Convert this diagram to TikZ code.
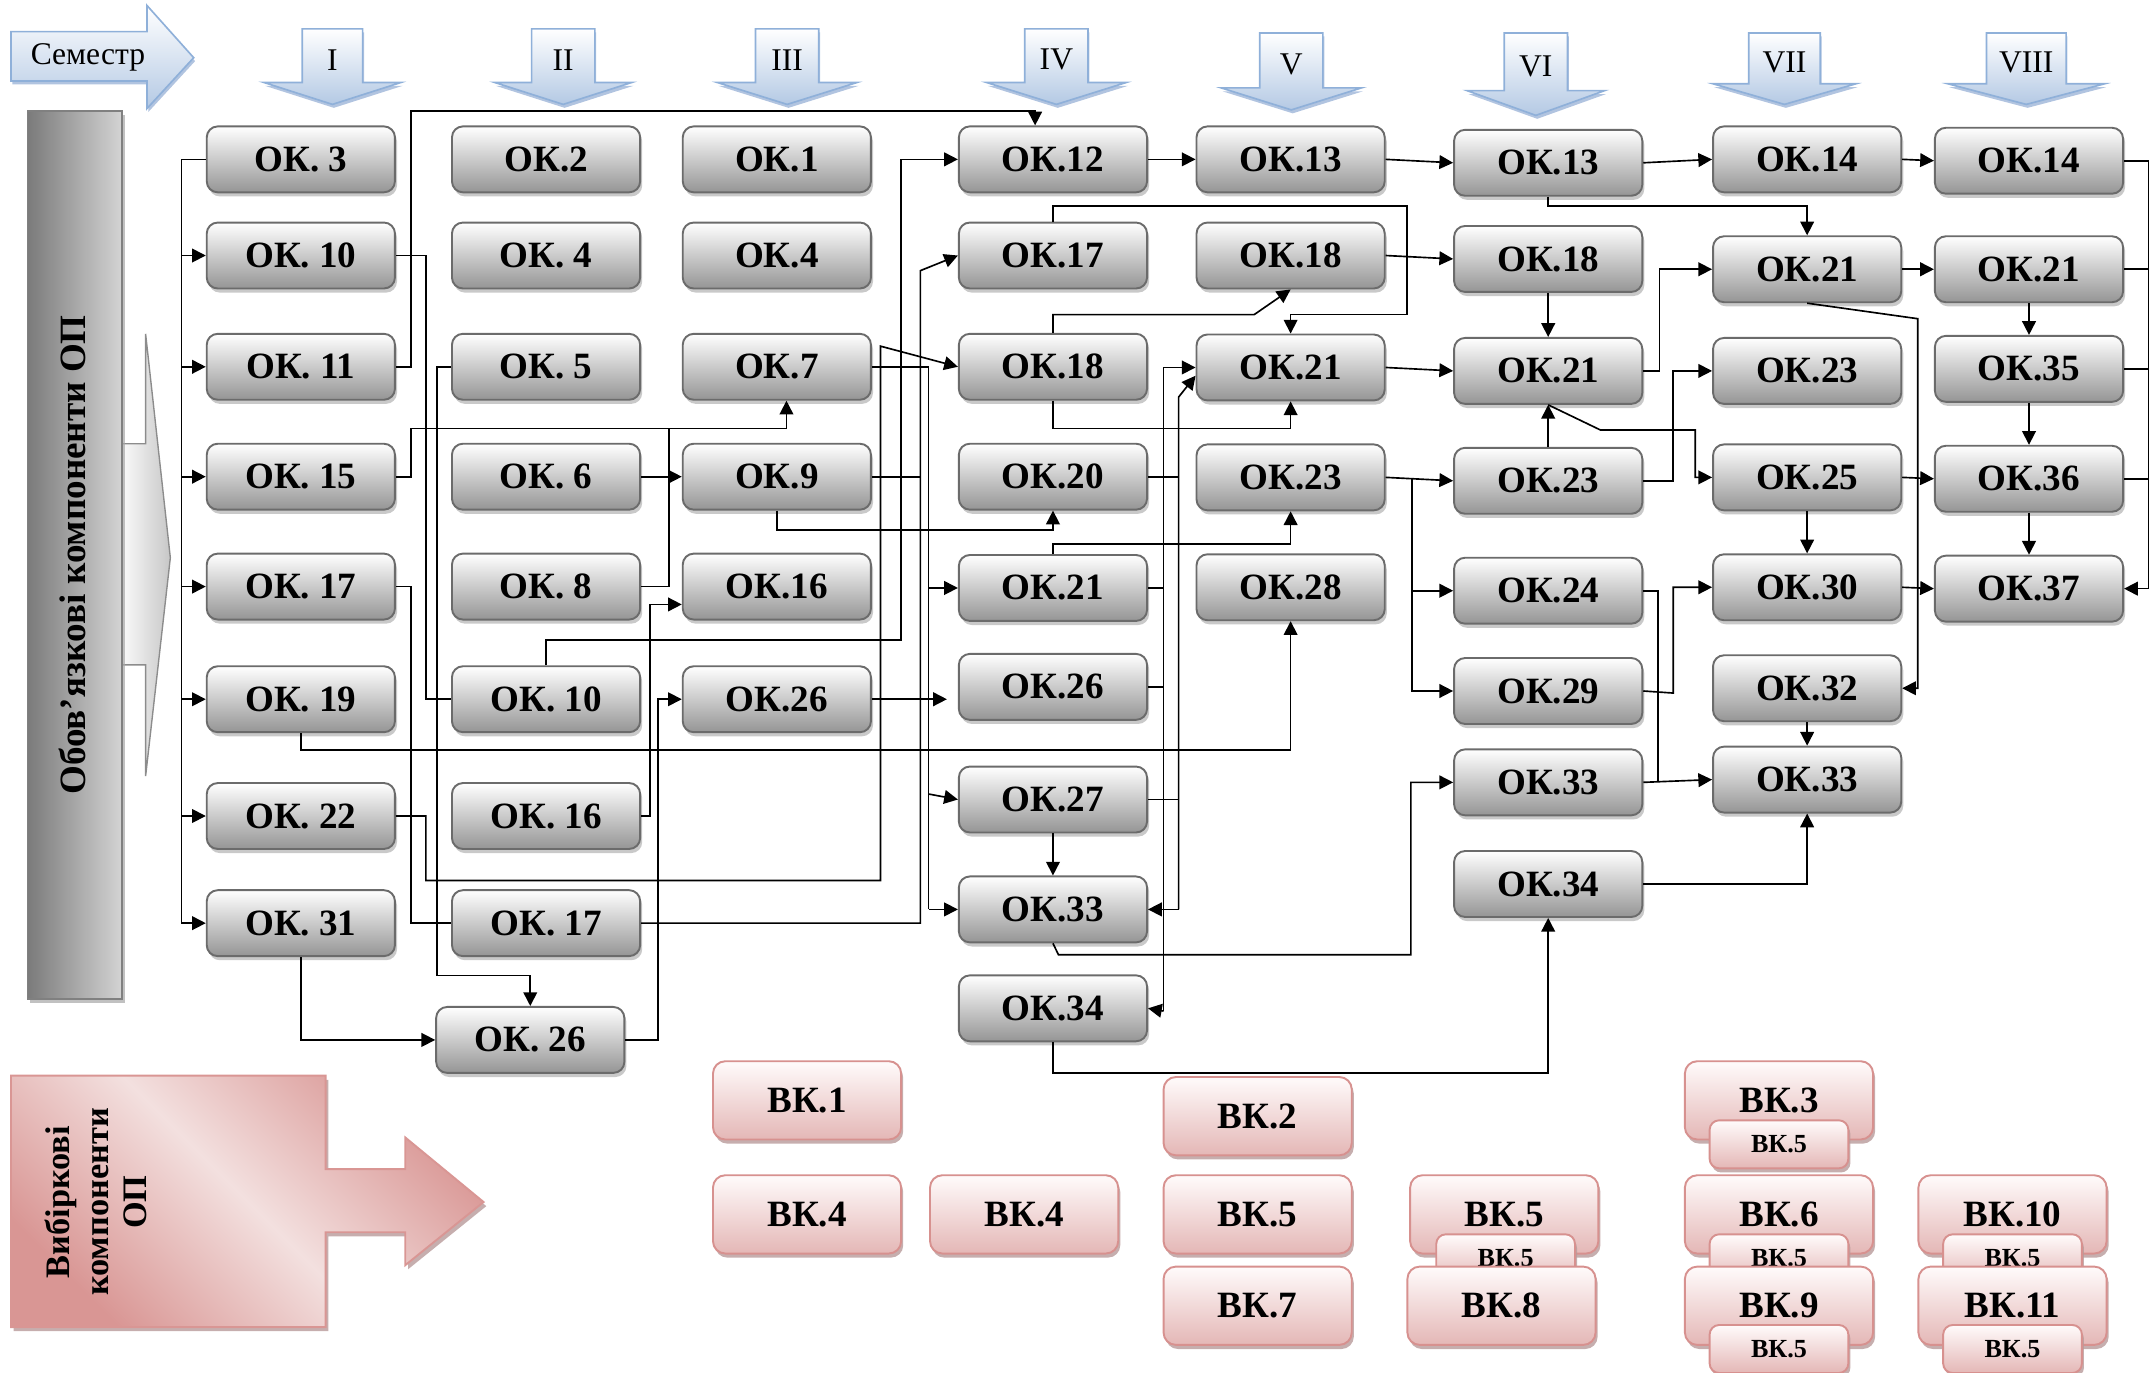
\documentclass[tikz,border=0pt]{standalone}
\usepackage{fontspec}
\setmainfont{Liberation Serif}
\usetikzlibrary{arrows.meta,shadows}
\definecolor{okline}{HTML}{6B6B6B}
\definecolor{okbot}{HTML}{959595}
\definecolor{vkline}{HTML}{D7918F}
\definecolor{vkbot}{HTML}{E4B7B6}
\definecolor{vktop}{HTML}{FFFBFB}
\definecolor{vkshadow}{HTML}{B89A9A}
\definecolor{blline}{HTML}{8FB0D9}
\definecolor{blbot}{HTML}{B4C9E4}
\definecolor{blshadow}{HTML}{7D9CCB}
\definecolor{pinkd}{HTML}{D99694}
\definecolor{pinkl}{HTML}{F3E0DF}
\tikzset{
  okbox/.style={draw=okline, line width=1.4pt, rounded corners=8pt,
    minimum width=137pt, minimum height=48pt, inner sep=0pt,
    top color=white, bottom color=okbot,
    drop shadow={shadow xshift=1.5pt, shadow yshift=-3pt, fill=black!30, opacity=0.7},
    font=\fontsize{27}{30}\selectfont\bfseries},
  vkbox/.style={draw=vkline, line width=1.4pt, rounded corners=9pt,
    minimum width=137pt, minimum height=57pt, inner sep=0pt,
    top color=vktop, bottom color=vkbot,
    drop shadow={shadow xshift=1.5pt, shadow yshift=-3pt, fill=vkshadow, opacity=0.8},
    font=\fontsize{27}{30}\selectfont\bfseries},
  vksub/.style={vkbox, minimum width=101pt, minimum height=35pt, rounded corners=7pt,
    font=\fontsize{19}{22}\selectfont\bfseries},
  conn/.style={line width=1.2pt, draw=black},
  arr/.style={conn, -{Triangle[length=10pt,width=10pt]}},
  semarrow/.style={draw=blline, line width=1.2pt, top color=white, bottom color=blbot,
    drop shadow={shadow xshift=1pt, shadow yshift=-2.5pt, fill=blshadow, opacity=0.6}},
  semlabel/.style={font=\fontsize{23}{26}\selectfont, inner sep=0pt},
}
\newcommand\semarr[8]{%
  \path[semarrow] ({#2-#6},#3) -- ({#2+#6},#3) -- ({#2+#6},#4) -- ({#2+#7},#4)
     -- (#2,#5) -- ({#2-#7},#4) -- ({#2-#6},#4) -- cycle;
  \node[semlabel] (#1) at (#2,{(#3+#4)/2+3}) {#8};}
\begin{document}
\begin{tikzpicture}[x=1pt,y=-1pt]
\useasboundingbox (0,0) rectangle (1568,999);
% semester header
\path[semarrow] (8,23) -- (107,23) -- (107,4) -- (141,42) -- (107,79) -- (107,59) -- (8,59) -- cycle;
\node[semlabel] (sem) at (64,42) {Семестр};
\semarr{s1}{242}{21}{60}{76}{22}{50}{I}
\semarr{s2}{410}{21}{60}{76}{23}{50}{II}
\semarr{s3}{573}{21}{60}{76}{23}{51}{III}
\semarr{s4}{769}{21}{60}{76}{23}{51}{IV}
\semarr{s5}{940}{24}{64}{80}{23}{51}{V}
\semarr{s6}{1118}{24}{66}{84}{23}{50}{VI}
\semarr{s7}{1299}{24}{61}{76}{26}{52}{VII}
\semarr{s8}{1475}{24}{61}{76}{29}{57}{VIII}
% big gray arrow
\path[draw=black!45, line width=1pt, left color=white, right color=black!22]
  (85,323) -- (106,323) -- (106,243) -- (124,406) -- (106,565) -- (106,484) -- (85,484) -- cycle;
\path[draw=black!50, line width=1.2pt, left color=black!52, right color=black!17,
  drop shadow={shadow xshift=2pt, shadow yshift=-3pt, fill=black!35, opacity=0.7}]
  (20,81) rectangle (89,727);
\node[rotate=90, font=\fontsize{27}{30}\selectfont\bfseries] (obov) at (53,404) {Обов’язкові компоненти ОП};
% big pink arrow
\path[draw=pinkd, line width=1.4pt, left color=pinkd, right color=pinkd, middle color=pinkl, shading angle=135,
  drop shadow={shadow xshift=2pt, shadow yshift=-3pt, fill=vkshadow, opacity=0.8}]
  (8,783) -- (237,783) -- (237,851) -- (295,851) -- (295,828) -- (352,875) -- (295,921)
  -- (295,897) -- (237,897) -- (237,966) -- (8,966) -- cycle;
\node[rotate=90, align=center, font=\fontsize{25}{28}\selectfont\bfseries] (vyb) at (70,875) {Вибіркові\\компоненти\\ОП};

% column I
\node[okbox] (a3)  at (219,116) {ОК. 3};
\node[okbox] (a10) at (219,186) {ОК. 10};
\node[okbox] (a11) at (219,267) {ОК. 11};
\node[okbox] (a15) at (219,347) {ОК. 15};
\node[okbox] (a17) at (219,427) {ОК. 17};
\node[okbox] (a19) at (219,509) {ОК. 19};
\node[okbox] (a22) at (219,594) {ОК. 22};
\node[okbox] (a31) at (219,672) {ОК. 31};
% column II
\node[okbox] (b2)  at (397.5,116) {ОК.2};
\node[okbox] (b4)  at (397.5,186) {ОК. 4};
\node[okbox] (b5)  at (397.5,267) {ОК. 5};
\node[okbox] (b6)  at (397.5,347) {ОК. 6};
\node[okbox] (b8)  at (397.5,427) {ОК. 8};
\node[okbox] (b10) at (397.5,509) {ОК. 10};
\node[okbox] (b16) at (397.5,594) {ОК. 16};
\node[okbox] (b17) at (397.5,672) {ОК. 17};
\node[okbox] (b26) at (386,757) {ОК. 26};
% column III
\node[okbox] (c1)  at (565.5,116) {ОК.1};
\node[okbox] (c4)  at (565.5,186) {ОК.4};
\node[okbox] (c7)  at (565.5,267) {ОК.7};
\node[okbox] (c9)  at (565.5,347) {ОК.9};
\node[okbox] (c16) at (565.5,427) {ОК.16};
\node[okbox] (c26) at (565.5,509) {ОК.26};
% column IV
\node[okbox] (d12) at (766.5,116) {ОК.12};
\node[okbox] (d17) at (766.5,186) {ОК.17};
\node[okbox] (d18) at (766.5,267) {ОК.18};
\node[okbox] (d20) at (766.5,347) {ОК.20};
\node[okbox] (d21) at (766.5,428) {ОК.21};
\node[okbox] (d26) at (766.5,500) {ОК.26};
\node[okbox] (d27) at (766.5,582) {ОК.27};
\node[okbox] (d33) at (766.5,662) {ОК.33};
\node[okbox] (d34) at (766.5,734) {ОК.34};
% column V
\node[okbox] (e13) at (939.5,116) {ОК.13};
\node[okbox] (e18) at (939.5,186) {ОК.18};
\node[okbox] (e21) at (939.5,267.5) {ОК.21};
\node[okbox] (e23) at (939.5,347.5) {ОК.23};
\node[okbox] (e28) at (939.5,427.5) {ОК.28};
% column VI
\node[okbox] (f13) at (1127,118.5) {ОК.13};
\node[okbox] (f18) at (1127,188.5) {ОК.18};
\node[okbox] (f21) at (1127,270) {ОК.21};
\node[okbox] (f23) at (1127,350) {ОК.23};
\node[okbox] (f24) at (1127,430) {ОК.24};
\node[okbox] (f29) at (1127,503) {ОК.29};
\node[okbox] (f33) at (1127,569.5) {ОК.33};
\node[okbox] (f34) at (1127,643.5) {ОК.34};
% column VII
\node[okbox] (g14) at (1315.5,116) {ОК.14};
\node[okbox] (g21) at (1315.5,196) {ОК.21};
\node[okbox] (g23) at (1315.5,270) {ОК.23};
\node[okbox] (g25) at (1315.5,347.5) {ОК.25};
\node[okbox] (g30) at (1315.5,427.5) {ОК.30};
\node[okbox] (g32) at (1315.5,501) {ОК.32};
\node[okbox] (g33) at (1315.5,567.5) {ОК.33};
% column VIII
\node[okbox] (h14) at (1477,117) {ОК.14};
\node[okbox] (h21) at (1477,196) {ОК.21};
\node[okbox] (h35) at (1477,268.5) {ОК.35};
\node[okbox] (h36) at (1477,348.5) {ОК.36};
\node[okbox] (h37) at (1477,428.5) {ОК.37};

% elective components
\node[vkbox] (vk1) at (587.5,801) {ВК.1};
\node[vkbox] (vk4a) at (587.5,884) {ВК.4};
\node[vkbox] (vk4b) at (745.5,884) {ВК.4};
\node[vkbox] (vk2) at (915.5,812.5) {ВК.2};
\node[vkbox] (vk5a) at (915.5,884) {ВК.5};
\node[vkbox] (vk7) at (915.5,950.5) {ВК.7};
\node[vkbox] (vk5b) at (1095,884) {ВК.5};
\node[vksub] (vk5bs) at (1096,916) {ВК.5};
\node[vkbox] (vk8) at (1093,950.5) {ВК.8};
\node[vkbox] (vk3) at (1295,801) {ВК.3};
\node[vksub] (vk3s) at (1295,833) {ВК.5};
\node[vkbox] (vk6) at (1295,884) {ВК.6};
\node[vksub] (vk6s) at (1295,916) {ВК.5};
\node[vkbox] (vk9) at (1295,950.5) {ВК.9};
\node[vksub] (vk9s) at (1295,982) {ВК.5};
\node[vkbox] (vk10) at (1465,884) {ВК.10};
\node[vksub] (vk10s) at (1465,916) {ВК.5};
\node[vkbox] (vk11) at (1465,950.5) {ВК.11};
\node[vksub] (vk11s) at (1465,982) {ВК.5};

% ---------- connectors ----------
\coordinate (busL) at (132,116);
\draw[conn] (a3.west) -- (busL) -- (busL |- a31.west);
\foreach \n in {a10,a11,a15,a17,a19,a22,a31} \draw[arr] (busL |- \n.west) -- (\n.west);
\draw[arr] (a11.east) -| (299,81) -| ([xshift=-13pt]d12.north);
\draw[conn] (a10.east) -| (310,509) -- (b10.west);
\draw[arr] (a15.east) -| (299,312) -| ([xshift=7pt]c7.south);
\draw[conn] (b8.east) -| (487,312);
\draw[arr] (b6.east) -- (c9.west);
\draw[arr] (b5.west) -| (318,710) -| (b26.north);
\draw[arr] (a31.south) |- (b26.west);
\draw[arr] (b26.east) -| (479,509) -- (c26.west);
\draw[arr] (b16.east) -| (473,440) -- (c16.west |- 0,440);
\draw[conn] (a17.east) -| (299,672) -- (b17.west);
\draw[arr] (b17.east) -| (670,197) -- (d17.west);
\draw[arr] (a22.east) -| (310,641) -| (641,252) -- (d18.west);
\draw[arr] (b10.north) |- (656,466) |- (d12.west);
\draw[conn] (c7.east) -| (676,662);
\draw[arr] (676,428) -- (d21.west);
\draw[arr] (676,578) -- (d27.west);
\draw[arr] (676,662) -- (d33.west);
\draw[conn] (c9.east) -- (670,347);
\draw[arr] (c9.south) |- (766.5,386) -- (d20.south);
\draw[arr] (c26.east) -- ([xshift=-8pt,yshift=-9pt]d26.west);
\draw[arr] (a19.south) |- (939.5,546) -- (e28.south);
\draw[arr] (d21.north) |- (939.5,396) -- (e23.south);
\draw[arr] (d18.south) |- (939.5,312) -- (e21.south);
\draw[arr] (d18.north) |- (913,229) -- (e18.south);
\draw[arr] (d17.north) |- (1024,150) |- (939.5,229) -- (e21.north);
\draw[conn] (d21.east) -- (847,428);
\draw[conn] (d26.east) -- (847,500);
\draw[arr] (847,736) |- (e21.west);
\draw[arr] (847,736) -- (d34.east);
\draw[conn] (d20.east) -- (858,347);
\draw[conn] (d27.east) -- (858,582);
\draw[arr] (858,662) -- (858,289) -- ([yshift=-6pt]e21.west);
\draw[arr] (858,662) -- (d33.east);
\draw[arr] (d27.south) -- (d33.north);
\draw[arr] (d33.south) -- (770.5,695) -| (1027,569.5) -- (f33.west);
\draw[arr] (d34.south) |- (1127,781) -- (f34.south);
\draw[arr] (d12.east) -- (e13.west);
\draw[arr] (e13.east) -- (f13.west);
\draw[arr] (f13.east) -- (g14.west);
\draw[arr] (g14.east) -- (h14.west);
\draw[arr] (f13.south) |- (1315.5,150) -- (g21.north);
\draw[arr] (e18.east) -- (f18.west);
\draw[arr] (e21.east) -- (f21.west);
\draw[arr] (f18.south) -- (f21.north);
\draw[arr] (f23.north) -- (f21.south);
\draw[arr] (f21.east) -- (1208,270) |- (g21.west);
\draw[arr] (f23.east) -| (1218,270) -- (g23.west);
\draw[arr] (f21.south) -- (1165,313) -| (1234,347.5) -- (g25.west);
\draw[arr] (e23.east) -- (f23.west);
\draw[arr] (1028,349) |- (f24.west);
\draw[arr] (1028,349) |- (f29.west);
\draw[conn] (f24.east) -| (1207,569);
\draw[arr] (f29.east) -- (1218,504.5) |- (g30.west);
\draw[arr] (f33.east) -- (g33.west);
\draw[arr] (f34.east) -| (g33.south);
\draw[arr] (g21.south) -- (1396,232) |- (g32.east);
\draw[arr] (g21.east) -- (h21.west);
\draw[arr] (g25.east) -- (h36.west);
\draw[arr] (g30.east) -- (h37.west);
\draw[arr] (g25.south) -- (g30.north);
\draw[arr] (g32.south) -- (g33.north);
\draw[arr] (h21.south) -- (h35.north);
\draw[arr] (h35.south) -- (h36.north);
\draw[arr] (h36.south) -- (h37.north);
\draw[conn] (h14.east) -| (1564,428.5);
\foreach \n in {h21,h35,h36} \draw[conn] (\n.east) -- (1564,0 |- \n.east);
\draw[arr] (1564,428.5) -- (h37.east);
\end{tikzpicture}
\end{document}
